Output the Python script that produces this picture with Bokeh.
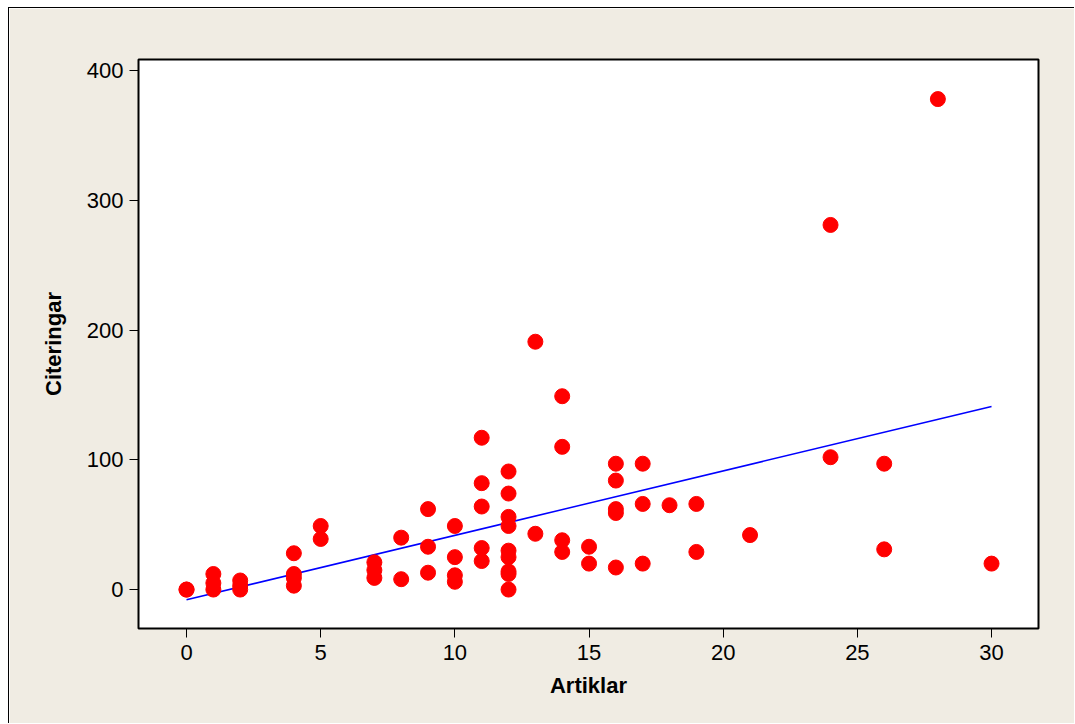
import numpy as np
from bokeh.plotting import figure
from bokeh.models import Range1d, FixedTicker
from bokeh.embed import file_html
from bokeh.resources import INLINE

# Data
artiklar = [0, 0,
            1, 1, 1,
            2, 2, 2,
            4, 4, 4, 4,
            5, 5,
            7, 7, 7,
            8, 8,
            9, 9, 9,
            10, 10, 10, 10,
            11, 11, 11, 11, 11,
            12, 12, 12, 12, 12, 12, 12, 12, 12,
            13, 13,
            14, 14, 14, 14,
            15, 15,
            16, 16, 16, 16, 16,
            17, 17, 17,
            18,
            19, 19,
            21,
            24, 24,
            26, 26,
            28,
            30]
citeringar = [0, 0,
              12, 5, 0,
              7, 3, 0,
              28, 12, 9, 3,
              49, 39,
              21, 15, 9,
              40, 8,
              62, 33, 13,
              49, 25, 11, 6,
              117, 82, 64, 32, 22,
              91, 74, 56, 49, 30, 25, 14, 12, 0,
              191, 43,
              149, 110, 38, 29,
              33, 20,
              97, 84, 62, 59, 17,
              97, 66, 20,
              65,
              66, 29,
              42,
              281, 102,
              97, 31,
              378,
              20]

x_ticks = [0, 5, 10, 15, 20, 25, 30]
y_ticks = [0, 100, 200, 300, 400]

slope, intercept = np.polyfit(artiklar, citeringar, 1)
fit_x = [min(artiklar), max(artiklar)]
fit_y = [intercept + slope * v for v in fit_x]

p = figure(width=1066, height=716, output_backend="svg", toolbar_location=None,
           x_range=Range1d(-1.79, 31.75), y_range=Range1d(-30, 408.5),
           min_border_left=129, min_border_top=51, min_border_right=37, min_border_bottom=96)
p.background_fill_color = "white"
p.border_fill_color = "#F0ECE3"
p.outline_line_color = "black"
p.outline_line_width = 2
p.grid.visible = False
p.styles = {"border-left": "1px solid #000", "border-top": "1px solid #000",
            "margin-left": "8px", "margin-top": "7px"}

p.line(fit_x, fit_y, line_color="#0000FF", line_width=1.5)
p.scatter(artiklar, citeringar, size=15, fill_color="#FF0000", line_color="#FF0000")

for ax in (p.xaxis[0], p.yaxis[0]):
    ax.major_tick_in = 0
    ax.major_tick_out = 9
    ax.minor_tick_line_color = None
    ax.major_tick_line_color = "black"
    ax.axis_line_color = "black"
    ax.major_label_text_font = "Liberation Sans"
    ax.major_label_text_font_size = "22px"
    ax.major_label_text_color = "black"
    ax.axis_label_text_font = "Liberation Sans"
    ax.axis_label_text_font_size = "22px"
    ax.axis_label_text_font_style = "bold"
    ax.axis_label_text_color = "black"

p.xaxis.ticker = FixedTicker(ticks=x_ticks)
p.yaxis.ticker = FixedTicker(ticks=y_ticks)
p.xaxis.axis_label = "Artiklar"
p.yaxis.axis_label = "Citeringar"
p.xaxis.major_label_standoff = 7
p.yaxis.major_label_standoff = 6
p.xaxis.axis_label_standoff = 10
p.yaxis.axis_label_standoff = 18

open("out.html", "w").write(file_html(p, INLINE))
